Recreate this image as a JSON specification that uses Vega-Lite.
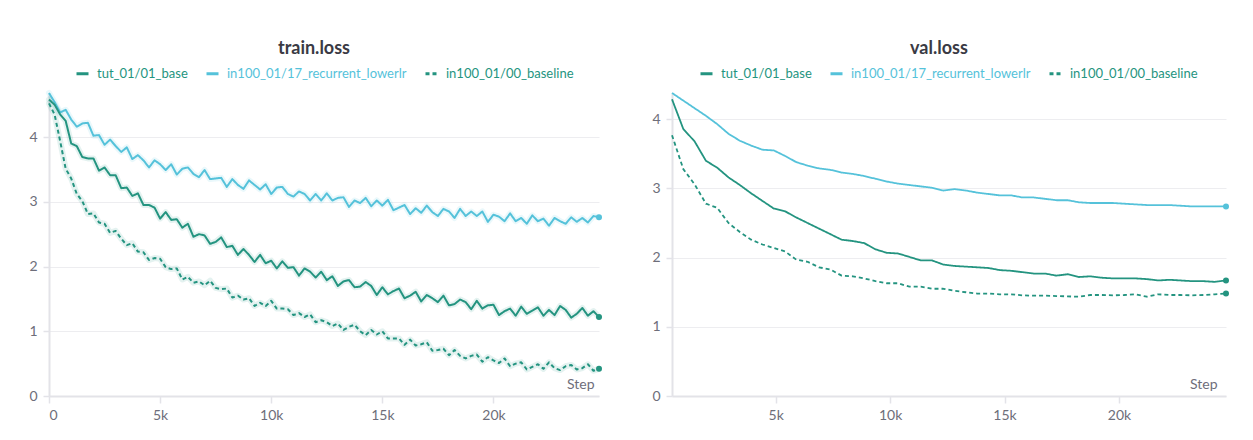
{
  "$schema": "https://vega.github.io/schema/vega-lite/v6.json",
  "background": "#ffffff",
  "padding": {"left": 28, "top": 40, "right": 5, "bottom": 5},
  "spacing": 49,
  "config": {
    "font": "Lato",
    "view": {"stroke": null},
    "axis": {
      "domainColor": "#e3e3e8",
      "domainWidth": 2,
      "gridColor": "#ededf0",
      "gridWidth": 1,
      "tickColor": "#e3e3e8",
      "tickWidth": 1.5,
      "labelColor": "#6e6e7a",
      "labelFontSize": 14,
      "labelFont": "Lato",
      "titleFont": "Lato"
    },
    "legend": {"labelLimit": 400},
    "title": {"font": "Lato", "fontSize": 18, "fontWeight": "bold", "color": "#3a3a44", "anchor": "middle", "offset": 8, "dx": -10}
  },
  "resolve": {
    "scale": {"x": "independent", "y": "independent", "color": "independent", "strokeDash": "independent"},
    "legend": {"color": "independent", "strokeDash": "independent"}
  },
  "datasets": {
    "train": [
      {"run": "in100_01/17_recurrent_lowerlr", "step": 0, "loss": 4.68},
      {"run": "in100_01/17_recurrent_lowerlr", "step": 250, "loss": 4.54},
      {"run": "in100_01/17_recurrent_lowerlr", "step": 500, "loss": 4.38},
      {"run": "in100_01/17_recurrent_lowerlr", "step": 750, "loss": 4.42},
      {"run": "in100_01/17_recurrent_lowerlr", "step": 1000, "loss": 4.27},
      {"run": "in100_01/17_recurrent_lowerlr", "step": 1250, "loss": 4.16},
      {"run": "in100_01/17_recurrent_lowerlr", "step": 1500, "loss": 4.21},
      {"run": "in100_01/17_recurrent_lowerlr", "step": 1750, "loss": 4.22},
      {"run": "in100_01/17_recurrent_lowerlr", "step": 2000, "loss": 4.02},
      {"run": "in100_01/17_recurrent_lowerlr", "step": 2250, "loss": 4.03},
      {"run": "in100_01/17_recurrent_lowerlr", "step": 2500, "loss": 3.88},
      {"run": "in100_01/17_recurrent_lowerlr", "step": 2750, "loss": 3.96},
      {"run": "in100_01/17_recurrent_lowerlr", "step": 3000, "loss": 3.86},
      {"run": "in100_01/17_recurrent_lowerlr", "step": 3250, "loss": 3.77},
      {"run": "in100_01/17_recurrent_lowerlr", "step": 3500, "loss": 3.84},
      {"run": "in100_01/17_recurrent_lowerlr", "step": 3750, "loss": 3.66},
      {"run": "in100_01/17_recurrent_lowerlr", "step": 4000, "loss": 3.72},
      {"run": "in100_01/17_recurrent_lowerlr", "step": 4250, "loss": 3.64},
      {"run": "in100_01/17_recurrent_lowerlr", "step": 4500, "loss": 3.53},
      {"run": "in100_01/17_recurrent_lowerlr", "step": 4750, "loss": 3.64},
      {"run": "in100_01/17_recurrent_lowerlr", "step": 5000, "loss": 3.58},
      {"run": "in100_01/17_recurrent_lowerlr", "step": 5250, "loss": 3.49},
      {"run": "in100_01/17_recurrent_lowerlr", "step": 5500, "loss": 3.58},
      {"run": "in100_01/17_recurrent_lowerlr", "step": 5750, "loss": 3.42},
      {"run": "in100_01/17_recurrent_lowerlr", "step": 6000, "loss": 3.51},
      {"run": "in100_01/17_recurrent_lowerlr", "step": 6250, "loss": 3.53},
      {"run": "in100_01/17_recurrent_lowerlr", "step": 6500, "loss": 3.43},
      {"run": "in100_01/17_recurrent_lowerlr", "step": 6750, "loss": 3.38},
      {"run": "in100_01/17_recurrent_lowerlr", "step": 7000, "loss": 3.49},
      {"run": "in100_01/17_recurrent_lowerlr", "step": 7250, "loss": 3.35},
      {"run": "in100_01/17_recurrent_lowerlr", "step": 7500, "loss": 3.36},
      {"run": "in100_01/17_recurrent_lowerlr", "step": 7750, "loss": 3.37},
      {"run": "in100_01/17_recurrent_lowerlr", "step": 8000, "loss": 3.23},
      {"run": "in100_01/17_recurrent_lowerlr", "step": 8250, "loss": 3.35},
      {"run": "in100_01/17_recurrent_lowerlr", "step": 8500, "loss": 3.26},
      {"run": "in100_01/17_recurrent_lowerlr", "step": 8750, "loss": 3.20},
      {"run": "in100_01/17_recurrent_lowerlr", "step": 9000, "loss": 3.33},
      {"run": "in100_01/17_recurrent_lowerlr", "step": 9250, "loss": 3.26},
      {"run": "in100_01/17_recurrent_lowerlr", "step": 9500, "loss": 3.19},
      {"run": "in100_01/17_recurrent_lowerlr", "step": 9750, "loss": 3.27},
      {"run": "in100_01/17_recurrent_lowerlr", "step": 10000, "loss": 3.12},
      {"run": "in100_01/17_recurrent_lowerlr", "step": 10250, "loss": 3.22},
      {"run": "in100_01/17_recurrent_lowerlr", "step": 10500, "loss": 3.23},
      {"run": "in100_01/17_recurrent_lowerlr", "step": 10750, "loss": 3.12},
      {"run": "in100_01/17_recurrent_lowerlr", "step": 11000, "loss": 3.08},
      {"run": "in100_01/17_recurrent_lowerlr", "step": 11250, "loss": 3.16},
      {"run": "in100_01/17_recurrent_lowerlr", "step": 11500, "loss": 3.12},
      {"run": "in100_01/17_recurrent_lowerlr", "step": 11750, "loss": 3.02},
      {"run": "in100_01/17_recurrent_lowerlr", "step": 12000, "loss": 3.12},
      {"run": "in100_01/17_recurrent_lowerlr", "step": 12250, "loss": 3.02},
      {"run": "in100_01/17_recurrent_lowerlr", "step": 12500, "loss": 3.13},
      {"run": "in100_01/17_recurrent_lowerlr", "step": 12750, "loss": 3.02},
      {"run": "in100_01/17_recurrent_lowerlr", "step": 13000, "loss": 3.06},
      {"run": "in100_01/17_recurrent_lowerlr", "step": 13250, "loss": 3.07},
      {"run": "in100_01/17_recurrent_lowerlr", "step": 13500, "loss": 2.92},
      {"run": "in100_01/17_recurrent_lowerlr", "step": 13750, "loss": 3.02},
      {"run": "in100_01/17_recurrent_lowerlr", "step": 14000, "loss": 2.98},
      {"run": "in100_01/17_recurrent_lowerlr", "step": 14250, "loss": 3.06},
      {"run": "in100_01/17_recurrent_lowerlr", "step": 14500, "loss": 2.93},
      {"run": "in100_01/17_recurrent_lowerlr", "step": 14750, "loss": 3.02},
      {"run": "in100_01/17_recurrent_lowerlr", "step": 15000, "loss": 2.94},
      {"run": "in100_01/17_recurrent_lowerlr", "step": 15250, "loss": 3.03},
      {"run": "in100_01/17_recurrent_lowerlr", "step": 15500, "loss": 2.87},
      {"run": "in100_01/17_recurrent_lowerlr", "step": 15750, "loss": 2.91},
      {"run": "in100_01/17_recurrent_lowerlr", "step": 16000, "loss": 2.95},
      {"run": "in100_01/17_recurrent_lowerlr", "step": 16250, "loss": 2.81},
      {"run": "in100_01/17_recurrent_lowerlr", "step": 16500, "loss": 2.90},
      {"run": "in100_01/17_recurrent_lowerlr", "step": 16750, "loss": 2.83},
      {"run": "in100_01/17_recurrent_lowerlr", "step": 17000, "loss": 2.94},
      {"run": "in100_01/17_recurrent_lowerlr", "step": 17250, "loss": 2.84},
      {"run": "in100_01/17_recurrent_lowerlr", "step": 17500, "loss": 2.78},
      {"run": "in100_01/17_recurrent_lowerlr", "step": 17750, "loss": 2.89},
      {"run": "in100_01/17_recurrent_lowerlr", "step": 18000, "loss": 2.85},
      {"run": "in100_01/17_recurrent_lowerlr", "step": 18250, "loss": 2.75},
      {"run": "in100_01/17_recurrent_lowerlr", "step": 18500, "loss": 2.89},
      {"run": "in100_01/17_recurrent_lowerlr", "step": 18750, "loss": 2.78},
      {"run": "in100_01/17_recurrent_lowerlr", "step": 19000, "loss": 2.85},
      {"run": "in100_01/17_recurrent_lowerlr", "step": 19250, "loss": 2.78},
      {"run": "in100_01/17_recurrent_lowerlr", "step": 19500, "loss": 2.85},
      {"run": "in100_01/17_recurrent_lowerlr", "step": 19750, "loss": 2.69},
      {"run": "in100_01/17_recurrent_lowerlr", "step": 20000, "loss": 2.80},
      {"run": "in100_01/17_recurrent_lowerlr", "step": 20250, "loss": 2.77},
      {"run": "in100_01/17_recurrent_lowerlr", "step": 20500, "loss": 2.70},
      {"run": "in100_01/17_recurrent_lowerlr", "step": 20750, "loss": 2.82},
      {"run": "in100_01/17_recurrent_lowerlr", "step": 21000, "loss": 2.70},
      {"run": "in100_01/17_recurrent_lowerlr", "step": 21250, "loss": 2.75},
      {"run": "in100_01/17_recurrent_lowerlr", "step": 21500, "loss": 2.66},
      {"run": "in100_01/17_recurrent_lowerlr", "step": 21750, "loss": 2.79},
      {"run": "in100_01/17_recurrent_lowerlr", "step": 22000, "loss": 2.70},
      {"run": "in100_01/17_recurrent_lowerlr", "step": 22250, "loss": 2.74},
      {"run": "in100_01/17_recurrent_lowerlr", "step": 22500, "loss": 2.63},
      {"run": "in100_01/17_recurrent_lowerlr", "step": 22750, "loss": 2.75},
      {"run": "in100_01/17_recurrent_lowerlr", "step": 23000, "loss": 2.70},
      {"run": "in100_01/17_recurrent_lowerlr", "step": 23250, "loss": 2.66},
      {"run": "in100_01/17_recurrent_lowerlr", "step": 23500, "loss": 2.76},
      {"run": "in100_01/17_recurrent_lowerlr", "step": 23750, "loss": 2.69},
      {"run": "in100_01/17_recurrent_lowerlr", "step": 24000, "loss": 2.75},
      {"run": "in100_01/17_recurrent_lowerlr", "step": 24250, "loss": 2.68},
      {"run": "in100_01/17_recurrent_lowerlr", "step": 24500, "loss": 2.78},
      {"run": "in100_01/17_recurrent_lowerlr", "step": 24750, "loss": 2.76},
      {"run": "tut_01/01_base", "step": 0, "loss": 4.58},
      {"run": "tut_01/01_base", "step": 250, "loss": 4.50},
      {"run": "tut_01/01_base", "step": 500, "loss": 4.35},
      {"run": "tut_01/01_base", "step": 750, "loss": 4.25},
      {"run": "tut_01/01_base", "step": 1000, "loss": 3.90},
      {"run": "tut_01/01_base", "step": 1250, "loss": 3.86},
      {"run": "tut_01/01_base", "step": 1500, "loss": 3.69},
      {"run": "tut_01/01_base", "step": 1750, "loss": 3.67},
      {"run": "tut_01/01_base", "step": 2000, "loss": 3.67},
      {"run": "tut_01/01_base", "step": 2250, "loss": 3.48},
      {"run": "tut_01/01_base", "step": 2500, "loss": 3.53},
      {"run": "tut_01/01_base", "step": 2750, "loss": 3.41},
      {"run": "tut_01/01_base", "step": 3000, "loss": 3.41},
      {"run": "tut_01/01_base", "step": 3250, "loss": 3.21},
      {"run": "tut_01/01_base", "step": 3500, "loss": 3.22},
      {"run": "tut_01/01_base", "step": 3750, "loss": 3.09},
      {"run": "tut_01/01_base", "step": 4000, "loss": 3.13},
      {"run": "tut_01/01_base", "step": 4250, "loss": 2.95},
      {"run": "tut_01/01_base", "step": 4500, "loss": 2.95},
      {"run": "tut_01/01_base", "step": 4750, "loss": 2.91},
      {"run": "tut_01/01_base", "step": 5000, "loss": 2.74},
      {"run": "tut_01/01_base", "step": 5250, "loss": 2.84},
      {"run": "tut_01/01_base", "step": 5500, "loss": 2.72},
      {"run": "tut_01/01_base", "step": 5750, "loss": 2.73},
      {"run": "tut_01/01_base", "step": 6000, "loss": 2.60},
      {"run": "tut_01/01_base", "step": 6250, "loss": 2.66},
      {"run": "tut_01/01_base", "step": 6500, "loss": 2.46},
      {"run": "tut_01/01_base", "step": 6750, "loss": 2.50},
      {"run": "tut_01/01_base", "step": 7000, "loss": 2.48},
      {"run": "tut_01/01_base", "step": 7250, "loss": 2.35},
      {"run": "tut_01/01_base", "step": 7500, "loss": 2.38},
      {"run": "tut_01/01_base", "step": 7750, "loss": 2.45},
      {"run": "tut_01/01_base", "step": 8000, "loss": 2.30},
      {"run": "tut_01/01_base", "step": 8250, "loss": 2.32},
      {"run": "tut_01/01_base", "step": 8500, "loss": 2.18},
      {"run": "tut_01/01_base", "step": 8750, "loss": 2.27},
      {"run": "tut_01/01_base", "step": 9000, "loss": 2.18},
      {"run": "tut_01/01_base", "step": 9250, "loss": 2.07},
      {"run": "tut_01/01_base", "step": 9500, "loss": 2.18},
      {"run": "tut_01/01_base", "step": 9750, "loss": 2.05},
      {"run": "tut_01/01_base", "step": 10000, "loss": 2.09},
      {"run": "tut_01/01_base", "step": 10250, "loss": 1.97},
      {"run": "tut_01/01_base", "step": 10500, "loss": 2.08},
      {"run": "tut_01/01_base", "step": 10750, "loss": 1.98},
      {"run": "tut_01/01_base", "step": 11000, "loss": 1.99},
      {"run": "tut_01/01_base", "step": 11250, "loss": 1.86},
      {"run": "tut_01/01_base", "step": 11500, "loss": 1.97},
      {"run": "tut_01/01_base", "step": 11750, "loss": 1.92},
      {"run": "tut_01/01_base", "step": 12000, "loss": 1.83},
      {"run": "tut_01/01_base", "step": 12250, "loss": 1.92},
      {"run": "tut_01/01_base", "step": 12500, "loss": 1.79},
      {"run": "tut_01/01_base", "step": 12750, "loss": 1.85},
      {"run": "tut_01/01_base", "step": 13000, "loss": 1.70},
      {"run": "tut_01/01_base", "step": 13250, "loss": 1.77},
      {"run": "tut_01/01_base", "step": 13500, "loss": 1.79},
      {"run": "tut_01/01_base", "step": 13750, "loss": 1.68},
      {"run": "tut_01/01_base", "step": 14000, "loss": 1.69},
      {"run": "tut_01/01_base", "step": 14250, "loss": 1.76},
      {"run": "tut_01/01_base", "step": 14500, "loss": 1.70},
      {"run": "tut_01/01_base", "step": 14750, "loss": 1.56},
      {"run": "tut_01/01_base", "step": 15000, "loss": 1.68},
      {"run": "tut_01/01_base", "step": 15250, "loss": 1.57},
      {"run": "tut_01/01_base", "step": 15500, "loss": 1.62},
      {"run": "tut_01/01_base", "step": 15750, "loss": 1.66},
      {"run": "tut_01/01_base", "step": 16000, "loss": 1.51},
      {"run": "tut_01/01_base", "step": 16250, "loss": 1.55},
      {"run": "tut_01/01_base", "step": 16500, "loss": 1.61},
      {"run": "tut_01/01_base", "step": 16750, "loss": 1.46},
      {"run": "tut_01/01_base", "step": 17000, "loss": 1.56},
      {"run": "tut_01/01_base", "step": 17250, "loss": 1.51},
      {"run": "tut_01/01_base", "step": 17500, "loss": 1.45},
      {"run": "tut_01/01_base", "step": 17750, "loss": 1.55},
      {"run": "tut_01/01_base", "step": 18000, "loss": 1.40},
      {"run": "tut_01/01_base", "step": 18250, "loss": 1.42},
      {"run": "tut_01/01_base", "step": 18500, "loss": 1.49},
      {"run": "tut_01/01_base", "step": 18750, "loss": 1.45},
      {"run": "tut_01/01_base", "step": 19000, "loss": 1.34},
      {"run": "tut_01/01_base", "step": 19250, "loss": 1.47},
      {"run": "tut_01/01_base", "step": 19500, "loss": 1.35},
      {"run": "tut_01/01_base", "step": 19750, "loss": 1.40},
      {"run": "tut_01/01_base", "step": 20000, "loss": 1.41},
      {"run": "tut_01/01_base", "step": 20250, "loss": 1.25},
      {"run": "tut_01/01_base", "step": 20500, "loss": 1.31},
      {"run": "tut_01/01_base", "step": 20750, "loss": 1.35},
      {"run": "tut_01/01_base", "step": 21000, "loss": 1.24},
      {"run": "tut_01/01_base", "step": 21250, "loss": 1.38},
      {"run": "tut_01/01_base", "step": 21500, "loss": 1.27},
      {"run": "tut_01/01_base", "step": 21750, "loss": 1.32},
      {"run": "tut_01/01_base", "step": 22000, "loss": 1.37},
      {"run": "tut_01/01_base", "step": 22250, "loss": 1.24},
      {"run": "tut_01/01_base", "step": 22500, "loss": 1.33},
      {"run": "tut_01/01_base", "step": 22750, "loss": 1.25},
      {"run": "tut_01/01_base", "step": 23000, "loss": 1.39},
      {"run": "tut_01/01_base", "step": 23250, "loss": 1.33},
      {"run": "tut_01/01_base", "step": 23500, "loss": 1.21},
      {"run": "tut_01/01_base", "step": 23750, "loss": 1.27},
      {"run": "tut_01/01_base", "step": 24000, "loss": 1.36},
      {"run": "tut_01/01_base", "step": 24250, "loss": 1.24},
      {"run": "tut_01/01_base", "step": 24500, "loss": 1.31},
      {"run": "tut_01/01_base", "step": 24750, "loss": 1.22},
      {"run": "in100_01/00_baseline", "step": 0, "loss": 4.52},
      {"run": "in100_01/00_baseline", "step": 250, "loss": 4.35},
      {"run": "in100_01/00_baseline", "step": 500, "loss": 3.94},
      {"run": "in100_01/00_baseline", "step": 750, "loss": 3.51},
      {"run": "in100_01/00_baseline", "step": 1000, "loss": 3.36},
      {"run": "in100_01/00_baseline", "step": 1250, "loss": 3.12},
      {"run": "in100_01/00_baseline", "step": 1500, "loss": 3.01},
      {"run": "in100_01/00_baseline", "step": 1750, "loss": 2.81},
      {"run": "in100_01/00_baseline", "step": 2000, "loss": 2.82},
      {"run": "in100_01/00_baseline", "step": 2250, "loss": 2.68},
      {"run": "in100_01/00_baseline", "step": 2500, "loss": 2.66},
      {"run": "in100_01/00_baseline", "step": 2750, "loss": 2.52},
      {"run": "in100_01/00_baseline", "step": 3000, "loss": 2.55},
      {"run": "in100_01/00_baseline", "step": 3250, "loss": 2.43},
      {"run": "in100_01/00_baseline", "step": 3500, "loss": 2.33},
      {"run": "in100_01/00_baseline", "step": 3750, "loss": 2.36},
      {"run": "in100_01/00_baseline", "step": 4000, "loss": 2.23},
      {"run": "in100_01/00_baseline", "step": 4250, "loss": 2.22},
      {"run": "in100_01/00_baseline", "step": 4500, "loss": 2.10},
      {"run": "in100_01/00_baseline", "step": 4750, "loss": 2.13},
      {"run": "in100_01/00_baseline", "step": 5000, "loss": 2.12},
      {"run": "in100_01/00_baseline", "step": 5250, "loss": 1.99},
      {"run": "in100_01/00_baseline", "step": 5500, "loss": 1.96},
      {"run": "in100_01/00_baseline", "step": 5750, "loss": 1.97},
      {"run": "in100_01/00_baseline", "step": 6000, "loss": 1.80},
      {"run": "in100_01/00_baseline", "step": 6250, "loss": 1.84},
      {"run": "in100_01/00_baseline", "step": 6500, "loss": 1.75},
      {"run": "in100_01/00_baseline", "step": 6750, "loss": 1.77},
      {"run": "in100_01/00_baseline", "step": 7000, "loss": 1.71},
      {"run": "in100_01/00_baseline", "step": 7250, "loss": 1.78},
      {"run": "in100_01/00_baseline", "step": 7500, "loss": 1.67},
      {"run": "in100_01/00_baseline", "step": 7750, "loss": 1.65},
      {"run": "in100_01/00_baseline", "step": 8000, "loss": 1.66},
      {"run": "in100_01/00_baseline", "step": 8250, "loss": 1.52},
      {"run": "in100_01/00_baseline", "step": 8500, "loss": 1.55},
      {"run": "in100_01/00_baseline", "step": 8750, "loss": 1.49},
      {"run": "in100_01/00_baseline", "step": 9000, "loss": 1.51},
      {"run": "in100_01/00_baseline", "step": 9250, "loss": 1.39},
      {"run": "in100_01/00_baseline", "step": 9500, "loss": 1.44},
      {"run": "in100_01/00_baseline", "step": 9750, "loss": 1.39},
      {"run": "in100_01/00_baseline", "step": 10000, "loss": 1.47},
      {"run": "in100_01/00_baseline", "step": 10250, "loss": 1.35},
      {"run": "in100_01/00_baseline", "step": 10500, "loss": 1.35},
      {"run": "in100_01/00_baseline", "step": 10750, "loss": 1.34},
      {"run": "in100_01/00_baseline", "step": 11000, "loss": 1.25},
      {"run": "in100_01/00_baseline", "step": 11250, "loss": 1.28},
      {"run": "in100_01/00_baseline", "step": 11500, "loss": 1.22},
      {"run": "in100_01/00_baseline", "step": 11750, "loss": 1.26},
      {"run": "in100_01/00_baseline", "step": 12000, "loss": 1.14},
      {"run": "in100_01/00_baseline", "step": 12250, "loss": 1.17},
      {"run": "in100_01/00_baseline", "step": 12500, "loss": 1.14},
      {"run": "in100_01/00_baseline", "step": 12750, "loss": 1.08},
      {"run": "in100_01/00_baseline", "step": 13000, "loss": 1.12},
      {"run": "in100_01/00_baseline", "step": 13250, "loss": 1.02},
      {"run": "in100_01/00_baseline", "step": 13500, "loss": 1.07},
      {"run": "in100_01/00_baseline", "step": 13750, "loss": 1.10},
      {"run": "in100_01/00_baseline", "step": 14000, "loss": 1.00},
      {"run": "in100_01/00_baseline", "step": 14250, "loss": 0.94},
      {"run": "in100_01/00_baseline", "step": 14500, "loss": 1.02},
      {"run": "in100_01/00_baseline", "step": 14750, "loss": 0.95},
      {"run": "in100_01/00_baseline", "step": 15000, "loss": 1.00},
      {"run": "in100_01/00_baseline", "step": 15250, "loss": 0.89},
      {"run": "in100_01/00_baseline", "step": 15500, "loss": 0.89},
      {"run": "in100_01/00_baseline", "step": 15750, "loss": 0.89},
      {"run": "in100_01/00_baseline", "step": 16000, "loss": 0.79},
      {"run": "in100_01/00_baseline", "step": 16250, "loss": 0.87},
      {"run": "in100_01/00_baseline", "step": 16500, "loss": 0.78},
      {"run": "in100_01/00_baseline", "step": 16750, "loss": 0.80},
      {"run": "in100_01/00_baseline", "step": 17000, "loss": 0.83},
      {"run": "in100_01/00_baseline", "step": 17250, "loss": 0.70},
      {"run": "in100_01/00_baseline", "step": 17500, "loss": 0.71},
      {"run": "in100_01/00_baseline", "step": 17750, "loss": 0.73},
      {"run": "in100_01/00_baseline", "step": 18000, "loss": 0.63},
      {"run": "in100_01/00_baseline", "step": 18250, "loss": 0.71},
      {"run": "in100_01/00_baseline", "step": 18500, "loss": 0.62},
      {"run": "in100_01/00_baseline", "step": 18750, "loss": 0.58},
      {"run": "in100_01/00_baseline", "step": 19000, "loss": 0.62},
      {"run": "in100_01/00_baseline", "step": 19250, "loss": 0.64},
      {"run": "in100_01/00_baseline", "step": 19500, "loss": 0.53},
      {"run": "in100_01/00_baseline", "step": 19750, "loss": 0.60},
      {"run": "in100_01/00_baseline", "step": 20000, "loss": 0.55},
      {"run": "in100_01/00_baseline", "step": 20250, "loss": 0.51},
      {"run": "in100_01/00_baseline", "step": 20500, "loss": 0.58},
      {"run": "in100_01/00_baseline", "step": 20750, "loss": 0.46},
      {"run": "in100_01/00_baseline", "step": 21000, "loss": 0.50},
      {"run": "in100_01/00_baseline", "step": 21250, "loss": 0.52},
      {"run": "in100_01/00_baseline", "step": 21500, "loss": 0.41},
      {"run": "in100_01/00_baseline", "step": 21750, "loss": 0.45},
      {"run": "in100_01/00_baseline", "step": 22000, "loss": 0.49},
      {"run": "in100_01/00_baseline", "step": 22250, "loss": 0.42},
      {"run": "in100_01/00_baseline", "step": 22500, "loss": 0.52},
      {"run": "in100_01/00_baseline", "step": 22750, "loss": 0.43},
      {"run": "in100_01/00_baseline", "step": 23000, "loss": 0.40},
      {"run": "in100_01/00_baseline", "step": 23250, "loss": 0.46},
      {"run": "in100_01/00_baseline", "step": 23500, "loss": 0.48},
      {"run": "in100_01/00_baseline", "step": 23750, "loss": 0.41},
      {"run": "in100_01/00_baseline", "step": 24000, "loss": 0.43},
      {"run": "in100_01/00_baseline", "step": 24250, "loss": 0.49},
      {"run": "in100_01/00_baseline", "step": 24500, "loss": 0.39},
      {"run": "in100_01/00_baseline", "step": 24750, "loss": 0.42}
    ],
    "val": [
      {"run": "in100_01/17_recurrent_lowerlr", "step": 470, "loss": 4.38},
      {"run": "in100_01/17_recurrent_lowerlr", "step": 964, "loss": 4.27},
      {"run": "in100_01/17_recurrent_lowerlr", "step": 1458, "loss": 4.16},
      {"run": "in100_01/17_recurrent_lowerlr", "step": 1952, "loss": 4.05},
      {"run": "in100_01/17_recurrent_lowerlr", "step": 2446, "loss": 3.93},
      {"run": "in100_01/17_recurrent_lowerlr", "step": 2940, "loss": 3.79},
      {"run": "in100_01/17_recurrent_lowerlr", "step": 3434, "loss": 3.69},
      {"run": "in100_01/17_recurrent_lowerlr", "step": 3928, "loss": 3.62},
      {"run": "in100_01/17_recurrent_lowerlr", "step": 4422, "loss": 3.56},
      {"run": "in100_01/17_recurrent_lowerlr", "step": 4916, "loss": 3.55},
      {"run": "in100_01/17_recurrent_lowerlr", "step": 5410, "loss": 3.47},
      {"run": "in100_01/17_recurrent_lowerlr", "step": 5904, "loss": 3.38},
      {"run": "in100_01/17_recurrent_lowerlr", "step": 6398, "loss": 3.33},
      {"run": "in100_01/17_recurrent_lowerlr", "step": 6892, "loss": 3.29},
      {"run": "in100_01/17_recurrent_lowerlr", "step": 7386, "loss": 3.27},
      {"run": "in100_01/17_recurrent_lowerlr", "step": 7880, "loss": 3.23},
      {"run": "in100_01/17_recurrent_lowerlr", "step": 8374, "loss": 3.21},
      {"run": "in100_01/17_recurrent_lowerlr", "step": 8868, "loss": 3.18},
      {"run": "in100_01/17_recurrent_lowerlr", "step": 9362, "loss": 3.14},
      {"run": "in100_01/17_recurrent_lowerlr", "step": 9856, "loss": 3.10},
      {"run": "in100_01/17_recurrent_lowerlr", "step": 10350, "loss": 3.07},
      {"run": "in100_01/17_recurrent_lowerlr", "step": 10844, "loss": 3.05},
      {"run": "in100_01/17_recurrent_lowerlr", "step": 11338, "loss": 3.03},
      {"run": "in100_01/17_recurrent_lowerlr", "step": 11832, "loss": 3.01},
      {"run": "in100_01/17_recurrent_lowerlr", "step": 12326, "loss": 2.97},
      {"run": "in100_01/17_recurrent_lowerlr", "step": 12820, "loss": 2.99},
      {"run": "in100_01/17_recurrent_lowerlr", "step": 13314, "loss": 2.97},
      {"run": "in100_01/17_recurrent_lowerlr", "step": 13808, "loss": 2.94},
      {"run": "in100_01/17_recurrent_lowerlr", "step": 14302, "loss": 2.92},
      {"run": "in100_01/17_recurrent_lowerlr", "step": 14796, "loss": 2.90},
      {"run": "in100_01/17_recurrent_lowerlr", "step": 15290, "loss": 2.90},
      {"run": "in100_01/17_recurrent_lowerlr", "step": 15784, "loss": 2.87},
      {"run": "in100_01/17_recurrent_lowerlr", "step": 16278, "loss": 2.87},
      {"run": "in100_01/17_recurrent_lowerlr", "step": 16772, "loss": 2.85},
      {"run": "in100_01/17_recurrent_lowerlr", "step": 17266, "loss": 2.83},
      {"run": "in100_01/17_recurrent_lowerlr", "step": 17760, "loss": 2.83},
      {"run": "in100_01/17_recurrent_lowerlr", "step": 18254, "loss": 2.80},
      {"run": "in100_01/17_recurrent_lowerlr", "step": 18748, "loss": 2.79},
      {"run": "in100_01/17_recurrent_lowerlr", "step": 19242, "loss": 2.79},
      {"run": "in100_01/17_recurrent_lowerlr", "step": 19736, "loss": 2.79},
      {"run": "in100_01/17_recurrent_lowerlr", "step": 20230, "loss": 2.78},
      {"run": "in100_01/17_recurrent_lowerlr", "step": 20724, "loss": 2.77},
      {"run": "in100_01/17_recurrent_lowerlr", "step": 21218, "loss": 2.76},
      {"run": "in100_01/17_recurrent_lowerlr", "step": 21712, "loss": 2.76},
      {"run": "in100_01/17_recurrent_lowerlr", "step": 22206, "loss": 2.76},
      {"run": "in100_01/17_recurrent_lowerlr", "step": 22700, "loss": 2.75},
      {"run": "in100_01/17_recurrent_lowerlr", "step": 23194, "loss": 2.74},
      {"run": "in100_01/17_recurrent_lowerlr", "step": 23688, "loss": 2.74},
      {"run": "in100_01/17_recurrent_lowerlr", "step": 24182, "loss": 2.74},
      {"run": "in100_01/17_recurrent_lowerlr", "step": 24676, "loss": 2.74},
      {"run": "tut_01/01_base", "step": 470, "loss": 4.29},
      {"run": "tut_01/01_base", "step": 964, "loss": 3.86},
      {"run": "tut_01/01_base", "step": 1458, "loss": 3.68},
      {"run": "tut_01/01_base", "step": 1952, "loss": 3.40},
      {"run": "tut_01/01_base", "step": 2446, "loss": 3.30},
      {"run": "tut_01/01_base", "step": 2940, "loss": 3.16},
      {"run": "tut_01/01_base", "step": 3434, "loss": 3.05},
      {"run": "tut_01/01_base", "step": 3928, "loss": 2.93},
      {"run": "tut_01/01_base", "step": 4422, "loss": 2.82},
      {"run": "tut_01/01_base", "step": 4916, "loss": 2.71},
      {"run": "tut_01/01_base", "step": 5410, "loss": 2.67},
      {"run": "tut_01/01_base", "step": 5904, "loss": 2.58},
      {"run": "tut_01/01_base", "step": 6398, "loss": 2.50},
      {"run": "tut_01/01_base", "step": 6892, "loss": 2.42},
      {"run": "tut_01/01_base", "step": 7386, "loss": 2.34},
      {"run": "tut_01/01_base", "step": 7880, "loss": 2.26},
      {"run": "tut_01/01_base", "step": 8374, "loss": 2.24},
      {"run": "tut_01/01_base", "step": 8868, "loss": 2.21},
      {"run": "tut_01/01_base", "step": 9362, "loss": 2.12},
      {"run": "tut_01/01_base", "step": 9856, "loss": 2.07},
      {"run": "tut_01/01_base", "step": 10350, "loss": 2.06},
      {"run": "tut_01/01_base", "step": 10844, "loss": 2.01},
      {"run": "tut_01/01_base", "step": 11338, "loss": 1.96},
      {"run": "tut_01/01_base", "step": 11832, "loss": 1.96},
      {"run": "tut_01/01_base", "step": 12326, "loss": 1.90},
      {"run": "tut_01/01_base", "step": 12820, "loss": 1.88},
      {"run": "tut_01/01_base", "step": 13314, "loss": 1.87},
      {"run": "tut_01/01_base", "step": 13808, "loss": 1.86},
      {"run": "tut_01/01_base", "step": 14302, "loss": 1.85},
      {"run": "tut_01/01_base", "step": 14796, "loss": 1.82},
      {"run": "tut_01/01_base", "step": 15290, "loss": 1.81},
      {"run": "tut_01/01_base", "step": 15784, "loss": 1.79},
      {"run": "tut_01/01_base", "step": 16278, "loss": 1.77},
      {"run": "tut_01/01_base", "step": 16772, "loss": 1.77},
      {"run": "tut_01/01_base", "step": 17266, "loss": 1.74},
      {"run": "tut_01/01_base", "step": 17760, "loss": 1.76},
      {"run": "tut_01/01_base", "step": 18254, "loss": 1.72},
      {"run": "tut_01/01_base", "step": 18748, "loss": 1.73},
      {"run": "tut_01/01_base", "step": 19242, "loss": 1.71},
      {"run": "tut_01/01_base", "step": 19736, "loss": 1.70},
      {"run": "tut_01/01_base", "step": 20230, "loss": 1.70},
      {"run": "tut_01/01_base", "step": 20724, "loss": 1.70},
      {"run": "tut_01/01_base", "step": 21218, "loss": 1.69},
      {"run": "tut_01/01_base", "step": 21712, "loss": 1.67},
      {"run": "tut_01/01_base", "step": 22206, "loss": 1.68},
      {"run": "tut_01/01_base", "step": 22700, "loss": 1.67},
      {"run": "tut_01/01_base", "step": 23194, "loss": 1.66},
      {"run": "tut_01/01_base", "step": 23688, "loss": 1.66},
      {"run": "tut_01/01_base", "step": 24182, "loss": 1.65},
      {"run": "tut_01/01_base", "step": 24676, "loss": 1.67},
      {"run": "in100_01/00_baseline", "step": 470, "loss": 3.77},
      {"run": "in100_01/00_baseline", "step": 964, "loss": 3.28},
      {"run": "in100_01/00_baseline", "step": 1458, "loss": 3.06},
      {"run": "in100_01/00_baseline", "step": 1952, "loss": 2.78},
      {"run": "in100_01/00_baseline", "step": 2446, "loss": 2.72},
      {"run": "in100_01/00_baseline", "step": 2940, "loss": 2.50},
      {"run": "in100_01/00_baseline", "step": 3434, "loss": 2.37},
      {"run": "in100_01/00_baseline", "step": 3928, "loss": 2.26},
      {"run": "in100_01/00_baseline", "step": 4422, "loss": 2.19},
      {"run": "in100_01/00_baseline", "step": 4916, "loss": 2.14},
      {"run": "in100_01/00_baseline", "step": 5410, "loss": 2.09},
      {"run": "in100_01/00_baseline", "step": 5904, "loss": 1.97},
      {"run": "in100_01/00_baseline", "step": 6398, "loss": 1.94},
      {"run": "in100_01/00_baseline", "step": 6892, "loss": 1.86},
      {"run": "in100_01/00_baseline", "step": 7386, "loss": 1.83},
      {"run": "in100_01/00_baseline", "step": 7880, "loss": 1.74},
      {"run": "in100_01/00_baseline", "step": 8374, "loss": 1.73},
      {"run": "in100_01/00_baseline", "step": 8868, "loss": 1.70},
      {"run": "in100_01/00_baseline", "step": 9362, "loss": 1.66},
      {"run": "in100_01/00_baseline", "step": 9856, "loss": 1.63},
      {"run": "in100_01/00_baseline", "step": 10350, "loss": 1.63},
      {"run": "in100_01/00_baseline", "step": 10844, "loss": 1.58},
      {"run": "in100_01/00_baseline", "step": 11338, "loss": 1.58},
      {"run": "in100_01/00_baseline", "step": 11832, "loss": 1.55},
      {"run": "in100_01/00_baseline", "step": 12326, "loss": 1.55},
      {"run": "in100_01/00_baseline", "step": 12820, "loss": 1.52},
      {"run": "in100_01/00_baseline", "step": 13314, "loss": 1.50},
      {"run": "in100_01/00_baseline", "step": 13808, "loss": 1.48},
      {"run": "in100_01/00_baseline", "step": 14302, "loss": 1.48},
      {"run": "in100_01/00_baseline", "step": 14796, "loss": 1.47},
      {"run": "in100_01/00_baseline", "step": 15290, "loss": 1.47},
      {"run": "in100_01/00_baseline", "step": 15784, "loss": 1.455},
      {"run": "in100_01/00_baseline", "step": 16278, "loss": 1.45},
      {"run": "in100_01/00_baseline", "step": 16772, "loss": 1.45},
      {"run": "in100_01/00_baseline", "step": 17266, "loss": 1.445},
      {"run": "in100_01/00_baseline", "step": 17760, "loss": 1.44},
      {"run": "in100_01/00_baseline", "step": 18254, "loss": 1.435},
      {"run": "in100_01/00_baseline", "step": 18748, "loss": 1.46},
      {"run": "in100_01/00_baseline", "step": 19242, "loss": 1.46},
      {"run": "in100_01/00_baseline", "step": 19736, "loss": 1.455},
      {"run": "in100_01/00_baseline", "step": 20230, "loss": 1.46},
      {"run": "in100_01/00_baseline", "step": 20724, "loss": 1.47},
      {"run": "in100_01/00_baseline", "step": 21218, "loss": 1.435},
      {"run": "in100_01/00_baseline", "step": 21712, "loss": 1.47},
      {"run": "in100_01/00_baseline", "step": 22206, "loss": 1.46},
      {"run": "in100_01/00_baseline", "step": 22700, "loss": 1.46},
      {"run": "in100_01/00_baseline", "step": 23194, "loss": 1.455},
      {"run": "in100_01/00_baseline", "step": 23688, "loss": 1.46},
      {"run": "in100_01/00_baseline", "step": 24182, "loss": 1.47},
      {"run": "in100_01/00_baseline", "step": 24676, "loss": 1.48}
    ]
  },
  "hconcat": [
    {
      "title": {"text": "train.loss"},
      "width": 550,
      "height": 303,
      "data": {"name": "train"},
      "layer": [
        {
          "mark": {"type": "line", "strokeWidth": 6, "opacity": 0.12, "strokeJoin": "round", "strokeCap": "round"},
          "encoding": {
            "x": {"field": "step", "type": "quantitative", "scale": {"domain": [0, 24750], "nice": false, "zero": false},
                  "axis": {"values": [0, 5000, 10000, 15000, 20000], "labelExpr": "datum.value == 0 ? '0' : (datum.value / 1000) + 'k'", "grid": false, "tickSize": 7, "labelPadding": 5,
                           "title": "Step", "titleX": 545, "titleY": -5, "titleAlign": "right", "titleBaseline": "bottom",
                           "titleFontWeight": "normal", "titleFontSize": 14, "titleColor": "#6e6e7a"}},
            "y": {"field": "loss", "type": "quantitative", "scale": {"domain": [0, 4.68], "nice": false},
                  "axis": {"values": [0, 1, 2, 3, 4], "format": "d", "title": null, "tickSize": 6, "labelPadding": 6}},
            "color": {"field": "run", "type": "nominal",
                      "scale": {"domain": ["tut_01/01_base", "in100_01/17_recurrent_lowerlr", "in100_01/00_baseline"], "range": ["#249480", "#55c2da", "#249480"]},
                      "legend": {"title": null, "orient": "none", "legendX": 26, "legendY": -27, "direction": "horizontal",
                                 "symbolType": "stroke", "symbolSize": 144, "symbolStrokeWidth": 3, "symbolOpacity": 1,
                                 "labelFontSize": 13, "labelFont": "Lato", "labelOffset": 7, "columnPadding": 12, "padding": 0,
                                 "encode": {"labels": {"update": {"fill": {"signal": "datum.value === 'in100_01/17_recurrent_lowerlr' ? '#55c2da' : '#249480'"}}}}}}
          }
        },
        {
          "mark": {"type": "line", "strokeWidth": 2, "strokeJoin": "round"},
          "encoding": {
            "x": {"field": "step", "type": "quantitative"},
            "y": {"field": "loss", "type": "quantitative"},
            "color": {"field": "run", "type": "nominal",
                      "legend": {"title": null, "orient": "none", "legendX": 26, "legendY": -27, "direction": "horizontal",
                                 "symbolType": "stroke", "symbolSize": 144, "symbolStrokeWidth": 3, "symbolOpacity": 1,
                                 "labelFontSize": 13, "labelFont": "Lato", "labelOffset": 7, "columnPadding": 12, "padding": 0,
                                 "encode": {"labels": {"update": {"fill": {"signal": "datum.value === 'in100_01/17_recurrent_lowerlr' ? '#55c2da' : '#249480'"}}}}}},
            "strokeDash": {"field": "run", "type": "nominal",
                           "scale": {"domain": ["tut_01/01_base", "in100_01/17_recurrent_lowerlr", "in100_01/00_baseline"], "range": [[1, 0], [1, 0], [4, 3]]},
                           "legend": {"title": null, "orient": "none", "legendX": 26, "legendY": -27, "direction": "horizontal",
                                 "symbolType": "stroke", "symbolSize": 144, "symbolStrokeWidth": 3, "symbolOpacity": 1,
                                 "labelFontSize": 13, "labelFont": "Lato", "labelOffset": 7, "columnPadding": 12, "padding": 0,
                                 "encode": {"labels": {"update": {"fill": {"signal": "datum.value === 'in100_01/17_recurrent_lowerlr' ? '#55c2da' : '#249480'"}}}}}}
          }
        },
        {
          "transform": [{"filter": "datum.step == 24750"}],
          "mark": {"type": "point", "filled": true, "size": 36, "opacity": 1},
          "encoding": {
            "x": {"field": "step", "type": "quantitative"},
            "y": {"field": "loss", "type": "quantitative"},
            "color": {"field": "run", "type": "nominal", "legend": null}
          }
        }
      ]
    },
    {
      "title": {"text": "val.loss"},
      "width": 554,
      "height": 303,
      "data": {"name": "val"},
      "layer": [
        {
          "mark": {"type": "line", "strokeWidth": 1.8, "strokeJoin": "round"},
          "encoding": {
            "x": {"field": "step", "type": "quantitative", "scale": {"domain": [470, 24676], "nice": false, "zero": false},
                  "axis": {"values": [5000, 10000, 15000, 20000], "labelExpr": "(datum.value / 1000) + 'k'", "grid": false, "tickSize": 7, "labelPadding": 5,
                           "title": "Step", "titleX": 545, "titleY": -5, "titleAlign": "right", "titleBaseline": "bottom",
                           "titleFontWeight": "normal", "titleFontSize": 14, "titleColor": "#6e6e7a"}},
            "y": {"field": "loss", "type": "quantitative", "scale": {"domain": [0, 4.38], "nice": false},
                  "axis": {"values": [0, 1, 2, 3, 4], "format": "d", "title": null, "tickSize": 6, "labelPadding": 6}},
            "color": {"field": "run", "type": "nominal",
                      "scale": {"domain": ["tut_01/01_base", "in100_01/17_recurrent_lowerlr", "in100_01/00_baseline"], "range": ["#249480", "#55c2da", "#249480"]},
                      "legend": {"title": null, "orient": "none", "legendX": 27, "legendY": -27, "direction": "horizontal",
                                 "symbolType": "stroke", "symbolSize": 144, "symbolStrokeWidth": 3, "symbolOpacity": 1,
                                 "labelFontSize": 13, "labelFont": "Lato", "labelOffset": 7, "columnPadding": 12, "padding": 0,
                                 "encode": {"labels": {"update": {"fill": {"signal": "datum.value === 'in100_01/17_recurrent_lowerlr' ? '#55c2da' : '#249480'"}}}}}},
            "strokeDash": {"field": "run", "type": "nominal",
                           "scale": {"domain": ["tut_01/01_base", "in100_01/17_recurrent_lowerlr", "in100_01/00_baseline"], "range": [[1, 0], [1, 0], [4, 3]]},
                           "legend": {"title": null, "orient": "none", "legendX": 27, "legendY": -27, "direction": "horizontal",
                                 "symbolType": "stroke", "symbolSize": 144, "symbolStrokeWidth": 3, "symbolOpacity": 1,
                                 "labelFontSize": 13, "labelFont": "Lato", "labelOffset": 7, "columnPadding": 12, "padding": 0,
                                 "encode": {"labels": {"update": {"fill": {"signal": "datum.value === 'in100_01/17_recurrent_lowerlr' ? '#55c2da' : '#249480'"}}}}}}
          }
        },
        {
          "transform": [{"filter": "datum.step == 24676"}],
          "mark": {"type": "point", "filled": true, "size": 36, "opacity": 1},
          "encoding": {
            "x": {"field": "step", "type": "quantitative"},
            "y": {"field": "loss", "type": "quantitative"},
            "color": {"field": "run", "type": "nominal", "legend": null}
          }
        }
      ]
    }
  ]
}
